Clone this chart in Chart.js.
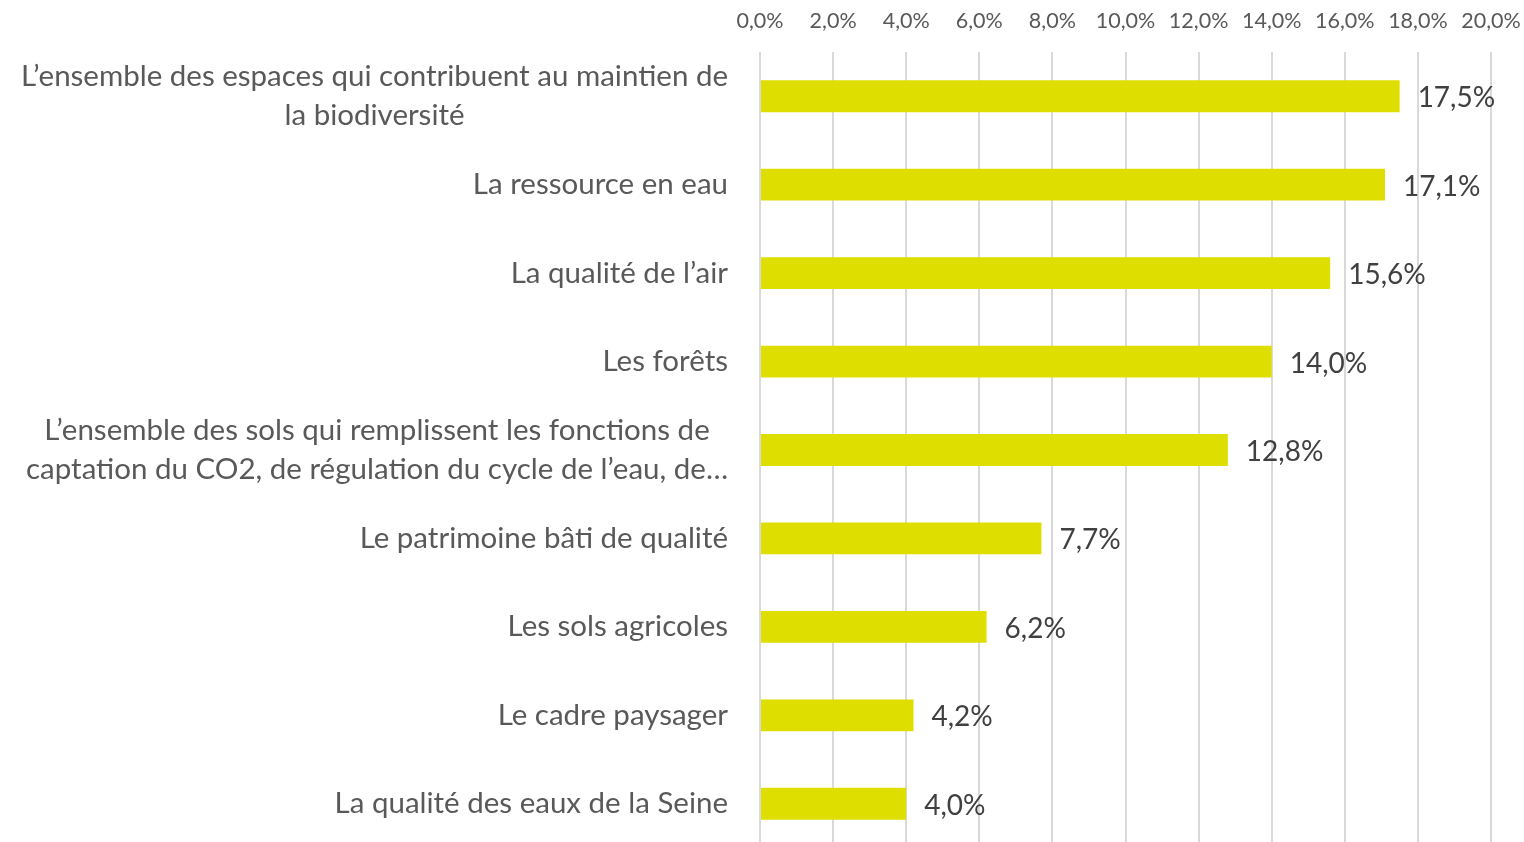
<!DOCTYPE html>
<html>
<head>
<meta charset="utf-8">
<script src="https://cdn.jsdelivr.net/npm/chart.js@4/dist/chart.umd.min.js"></script>
<style>
  html, body { margin: 0; padding: 0; background: #fff; overflow: hidden; }
  #wrap { width: 1524px; height: 842px; overflow: hidden; }
  #box { width: 1524px; height: 848px; position: relative; }
</style>
</head>
<body>
<div id="wrap"><div id="box"><canvas id="chart"></canvas></div></div>
<script>
const categories = [
  ['L’ensemble des espaces qui contribuent au maintien de', 'la biodiversité'],
  ['La ressource en eau'],
  ['La qualité de l’air'],
  ['Les forêts'],
  ['L’ensemble des sols qui remplissent les fonctions de', 'captation du CO2, de régulation du cycle de l’eau, de…'],
  ['Le patrimoine bâti de qualité'],
  ['Les sols agricoles'],
  ['Le cadre paysager'],
  ['La qualité des eaux de la Seine']
];
const shares = [17.5, 17.1, 15.6, 14.0, 12.8, 7.7, 6.2, 4.2, 4.0];
const xTicks = [0, 2, 4, 6, 8, 10, 12, 14, 16, 18, 20];

const FONT = 'Lato, "Open Sans", sans-serif';
const pct = v => v.toFixed(1).replace('.', ',') + '%';

// category labels: block right-aligned, lines centred inside the block
const catLabels = {
  id: 'catLabels',
  afterDraw(chart) {
    const ctx = chart.ctx;
    const y = chart.scales.y;
    ctx.save();
    ctx.font = '29.5px ' + FONT;
    ctx.fillStyle = '#595959';
    ctx.textAlign = 'center';
    ctx.textBaseline = 'middle';
    const lh = 39;
    categories.forEach((lines, i) => {
      const w = Math.max(...lines.map(l => ctx.measureText(l).width));
      const cx = chart.chartArea.left - 32 - w / 2;
      const cy = y.getPixelForTick(i);
      const top = cy - (lines.length - 1) * lh / 2;
      lines.forEach((l, j) => ctx.fillText(l, cx, top + j * lh));
    });
    ctx.restore();
  }
};

// value labels after each bar
const valueLabels = {
  id: 'valueLabels',
  afterDatasetsDraw(chart) {
    const ctx = chart.ctx;
    const meta = chart.getDatasetMeta(0);
    ctx.save();
    ctx.font = '28px ' + FONT;
    ctx.fillStyle = '#404040';
    ctx.textAlign = 'left';
    ctx.textBaseline = 'middle';
    meta.data.forEach((bar, i) => {
      ctx.fillText(pct(shares[i]), bar.x + 18, bar.y + 2);
    });
    ctx.restore();
  }
};

new Chart(document.getElementById('chart'), {
  type: 'bar',
  data: {
    labels: categories.map(c => c.join(' ')),
    datasets: [{
      data: shares,
      backgroundColor: '#dede00',
      borderWidth: 0,
      categoryPercentage: 1,
      barPercentage: 0.36
    }]
  },
  options: {
    indexAxis: 'y',
    responsive: true,
    maintainAspectRatio: false,
    animation: false,
    layout: { padding: { left: 0, right: 33, top: 0, bottom: 0 } },
    plugins: { legend: { display: false }, tooltip: { enabled: false } },
    scales: {
      x: {
        position: 'top',
        min: 0,
        max: 20,
        afterBuildTicks(scale) { scale.ticks = xTicks.map(v => ({ value: v })); },
        afterFit(scale) {
          scale.height = 52;
          scale.paddingLeft = 0;
          scale.paddingRight = 0;
        },
        ticks: {
          callback: v => pct(v),
          font: { family: FONT, size: 21.5 },
          color: '#595959',
          padding: 18,
          maxRotation: 0
        },
        grid: { color: '#d9d9d9', lineWidth: 2, drawTicks: false },
        border: { display: false }
      },
      y: {
        afterFit(scale) { scale.width = 760; },
        ticks: { display: false },
        grid: { display: false },
        border: { display: false }
      }
    }
  },
  plugins: [catLabels, valueLabels]
});
</script>
</body>
</html>
